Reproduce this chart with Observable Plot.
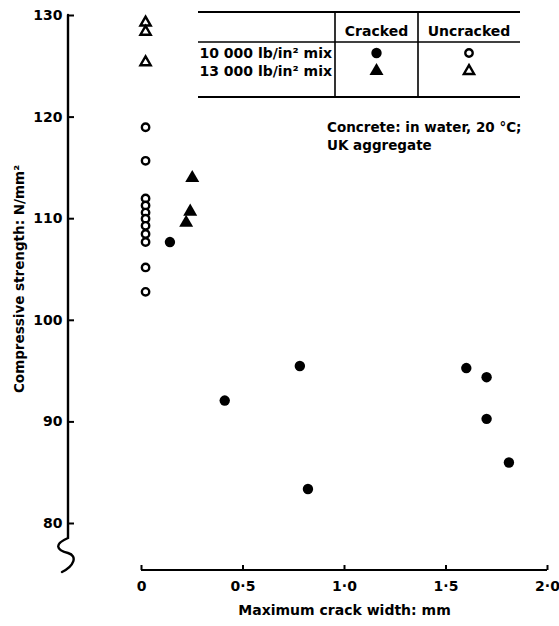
<!DOCTYPE html>
<html>
<head>
<meta charset="utf-8">
<script src="https://cdn.jsdelivr.net/npm/d3@7"></script>
<script src="https://cdn.jsdelivr.net/npm/@observablehq/plot@0.6"></script>
<style>
  body { margin: 0; background: #fff; }
  #chart svg text { font-family: "DejaVu Sans", "Liberation Sans", sans-serif; font-weight: bold; }
</style>
</head>
<body>
<div id="chart"></div>
<script>
// Compressive strength (N/mm²) against maximum crack width (mm)
const cracked10Width = [0.14, 0.41, 0.78, 0.82, 1.60, 1.70, 1.70, 1.81];
const cracked10Strength = [107.7, 92.1, 95.5, 83.4, 95.3, 94.4, 90.3, 86.0];
const cracked13Width = [0.22, 0.24, 0.25];
const cracked13Strength = [109.6, 110.7, 114.0];
const uncrackedWidth = 0.02;
const uncracked10Strength = [119.0, 115.7, 112.0, 111.3, 110.6, 110.0, 109.3, 108.5, 107.7, 105.2, 102.8];
const uncracked13Strength = [129.3, 128.4, 125.4];

const yTicks = [80, 90, 100, 110, 120, 130];
const xTicks = [0, 0.5, 1, 1.5, 2];
const xTickLabels = ["0", "0·5", "1·0", "1·5", "2·0"];
const xLabel = "Maximum crack width: mm";
const yLabel = "Compressive strength: N/mm²";
const mixes = ["10 000 lb/in² mix", "13 000 lb/in² mix"];
const states = ["Cracked", "Uncracked"];
const note = ["Concrete: in water, 20 °C;", "UK aggregate"];

const cracked10 = cracked10Width.map((w, i) => ({w, s: cracked10Strength[i]}));
const cracked13 = cracked13Width.map((w, i) => ({w, s: cracked13Strength[i]}));
const uncracked10 = uncracked10Strength.map(s => ({w: uncrackedWidth, s}));
const uncracked13 = uncracked13Strength.map(s => ({w: uncrackedWidth, s}));

const W = 559, H = 626;
const mLeft = 68, mTop = 15, mBottom = 56;
const ink = "#000";

// Marker styles, shared by the plot and the key
const style = {
  cracked10: {r: 5.2, fill: ink},
  uncracked10: {r: 3.7, stroke: ink, strokeWidth: 2.4, fill: "#fff"},
  cracked13: {symbol: "triangle", r: 5.2, fill: ink},
  uncracked13: {symbol: "triangle", r: 3.8, stroke: ink, strokeWidth: 2.4, fill: "#fff"}
};

const chart = Plot.plot({
  width: W,
  height: H,
  marginLeft: mLeft,
  marginTop: mTop,
  marginBottom: mBottom,
  marginRight: 12,
  style: {fontFamily: "'DejaVu Sans', sans-serif", fontWeight: "bold", background: "#fff", color: ink},
  x: {domain: [0, 2], range: [141, 547]},
  y: {domain: [80, 130], range: [523, 15]},
  marks: [
    Plot.axisY({ticks: yTicks, tickSize: -6, tickPadding: 12, strokeWidth: 2, fontSize: 14, label: null, tickFormat: d => String(d)}),
    Plot.axisX({ticks: xTicks, tickSize: -5, tickPadding: 16, strokeWidth: 2, fontSize: 14, label: null,
      tickFormat: d => xTickLabels[xTicks.indexOf(d)]}),
    Plot.text([yLabel], {frameAnchor: "left", textAnchor: "middle", rotate: -90, dx: -49, dy: -14, fontSize: 13.5, text: d => d}),
    Plot.text([xLabel], {x: () => d3.mean(xTicks), frameAnchor: "bottom", dy: 44, fontSize: 14, text: d => d}),
    Plot.dot(uncracked10, {x: "w", y: "s", ...style.uncracked10}),
    Plot.dot(uncracked13, {x: "w", y: "s", ...style.uncracked13}),
    Plot.dot(cracked10, {x: "w", y: "s", ...style.cracked10}),
    Plot.dot(cracked13, {x: "w", y: "s", ...style.cracked13})
  ]
});

document.getElementById("chart").append(chart);

const svg = d3.select(chart);
const xs = chart.scale("x"), ys = chart.scale("y");
const bottom = H - mBottom;

// Axis spines and the break on the strength axis
svg.append("line")
  .attr("x1", xs.apply(0)).attr("x2", xs.apply(2))
  .attr("y1", bottom).attr("y2", bottom)
  .attr("stroke", ink).attr("stroke-width", 2.2);
const breakTop = bottom - 32;
svg.append("path")
  .attr("d", `M${mLeft},${ys.apply(130)}V${breakTop}` +
    `C${mLeft - 14},${breakTop + 6} ${mLeft - 12},${breakTop + 12} ${mLeft},${breakTop + 15}` +
    `C${mLeft + 10},${breakTop + 18} ${mLeft + 6},${breakTop + 28} ${mLeft - 6},${breakTop + 34}`)
  .attr("fill", "none").attr("stroke", ink).attr("stroke-width", 2.4).attr("stroke-linecap", "round");

// Key table: mix by cracked / uncracked
const key = svg.append("g").attr("font-size", 14).attr("text-anchor", "start");
const kx0 = 198, kx1 = 520, kc1 = 335, kc2 = 418;
const ky = [12, 42, 97];
for (const [i, y] of ky.entries()) {
  key.append("line").attr("x1", kx0).attr("x2", kx1).attr("y1", y).attr("y2", y)
    .attr("stroke", ink).attr("stroke-width", i === 1 ? 1.6 : 2);
}
for (const x of [kc1, kc2]) {
  key.append("line").attr("x1", x).attr("x2", x).attr("y1", ky[0]).attr("y2", ky[2])
    .attr("stroke", ink).attr("stroke-width", 1.6);
}
const colX = [(kc1 + kc2) / 2, (kc2 + kx1) / 2];
states.forEach((s, j) => {
  key.append("text").attr("x", colX[j]).attr("y", 36).attr("text-anchor", "middle").text(s);
});
const rowY = [53, 71];
const keySymbols = [[style.cracked10, style.uncracked10], [style.cracked13, style.uncracked13]];
mixes.forEach((m, i) => {
  key.append("text").attr("x", kc1 - 3).attr("y", rowY[i] + 5).attr("text-anchor", "end").text(m);
  keySymbols[i].forEach((st, j) => {
    const shape = st.symbol === "triangle" ? d3.symbolTriangle : d3.symbolCircle;
    key.append("path")
      .attr("transform", `translate(${colX[j]},${rowY[i]})`)
      .attr("d", d3.symbol(shape, Math.PI * st.r * st.r)())
      .attr("fill", st.fill || "none")
      .attr("stroke", st.stroke || "none")
      .attr("stroke-width", st.strokeWidth || 0);
  });
});

// Test conditions
const notes = svg.append("g").attr("font-size", 13.5).attr("text-anchor", "start");
note.forEach((t, i) => {
  notes.append("text").attr("x", 327).attr("y", 132 + i * 18).text(t);
});
</script>
</body>
</html>
